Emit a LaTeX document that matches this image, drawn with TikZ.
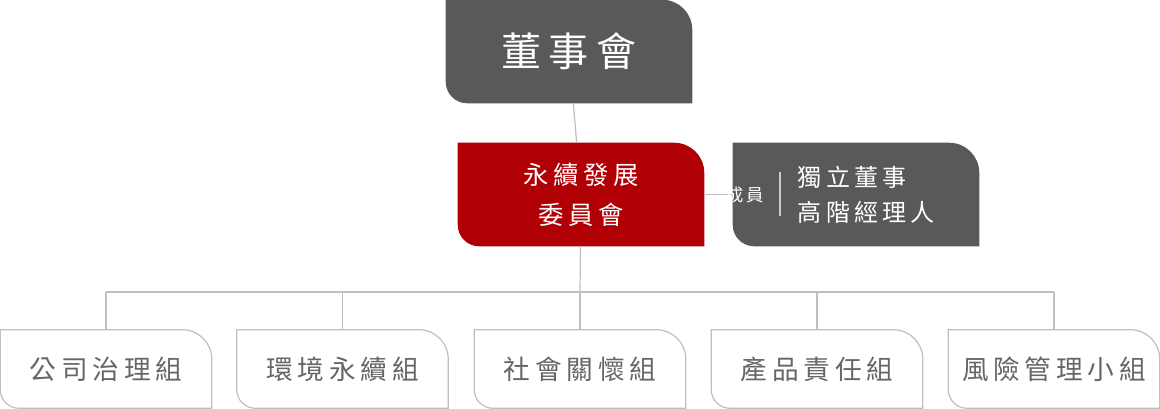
\documentclass[tikz,border=0pt]{standalone}
\usepackage{fontspec}
\setmainfont{Noto Sans CJK TC}[LetterSpace=18]
\usetikzlibrary{positioning,backgrounds}

\newcommand\leafshape[4]{% node, style, top-right radius, bottom-left radius
  \path[#2] (#1.north west) -- ([xshift=-#3]#1.north east) arc[start angle=90,end angle=0,radius=#3]
    -- (#1.south east) -- ([xshift=#4]#1.south west) arc[start angle=270,end angle=180,radius=#4] -- cycle;}

\begin{document}
\begin{tikzpicture}[x=0.75pt,y=-0.75pt]
	\tikzstyle{unit} = [inner sep=0pt, minimum width=184.5pt, minimum height=77.25pt, text centered, align=center]
	\tikzstyle{group} = [inner sep=0pt, minimum width=158.25pt, minimum height=58.5pt, text=black!60, font=\fontsize{20}{24}\selectfont]
	\tikzstyle{links} = [draw=black!25, line width=0.9pt]

	\useasboundingbox (0,0) rectangle (1160,408);

	\node (board) [unit, text=white, font=\fontsize{30}{36}\selectfont] at (569,51.5) {董事會};
	\node (esg) [unit, text=white, font=\fontsize{19}{30}\selectfont] at (581,194.5) {永續發展\\委員會};
	\node (members) [unit] at (856,194.5) {};
	\node (members_tag) [text=white, font=\fontsize{13}{16}\selectfont] at (745,194.5) {成員};
	\node (members_list) [text=white, align=left, font=\fontsize{18}{26}\selectfont, anchor=west] at (793,194.5) {獨立董事\\高階經理人};
	\coordinate (bar_top) at (780,172);
	\coordinate (bar_bottom) at (780,216);

	\node (governance) [group] at (106,369) {公司治理組};
	\node (environment) [group] at (342.5,369) {環境永續組};
	\node (social) [group] at (580,369) {社會關懷組};
	\node (product) [group] at (817,369) {產品責任組};
	\node (risk) [group] at (1054,369) {風險管理小組};
	\coordinate (bus) at (580,292);

	\begin{pgfonlayer}{background}
		\leafshape{board}{fill={rgb,255:red,90;green,88;blue,89}}{22.5pt}{16pt}
		\leafshape{esg}{fill={rgb,255:red,176;green,0;blue,5}}{22.5pt}{16pt}
		\leafshape{members}{fill={rgb,255:red,90;green,88;blue,89}}{22.5pt}{16pt}
		\foreach \g in {governance,environment,social,product,risk}
			\leafshape{\g}{draw=black!25, line width=0.9pt, fill=white}{22pt}{14pt};
		\draw [links] (board) -- (esg);
		\draw [links] (esg) -- (members);
		\draw [links] (esg) -- (bus);
		\draw [links] (governance.north |- bus) -- (risk.north |- bus);
		\foreach \g in {governance,environment,social,product,risk}
			\draw [links] (\g.north |- bus) -- (\g.north);
	\end{pgfonlayer}
	\draw [draw=white!80!black, line width=0.8pt] (bar_top) -- (bar_bottom);
\end{tikzpicture}
\end{document}
